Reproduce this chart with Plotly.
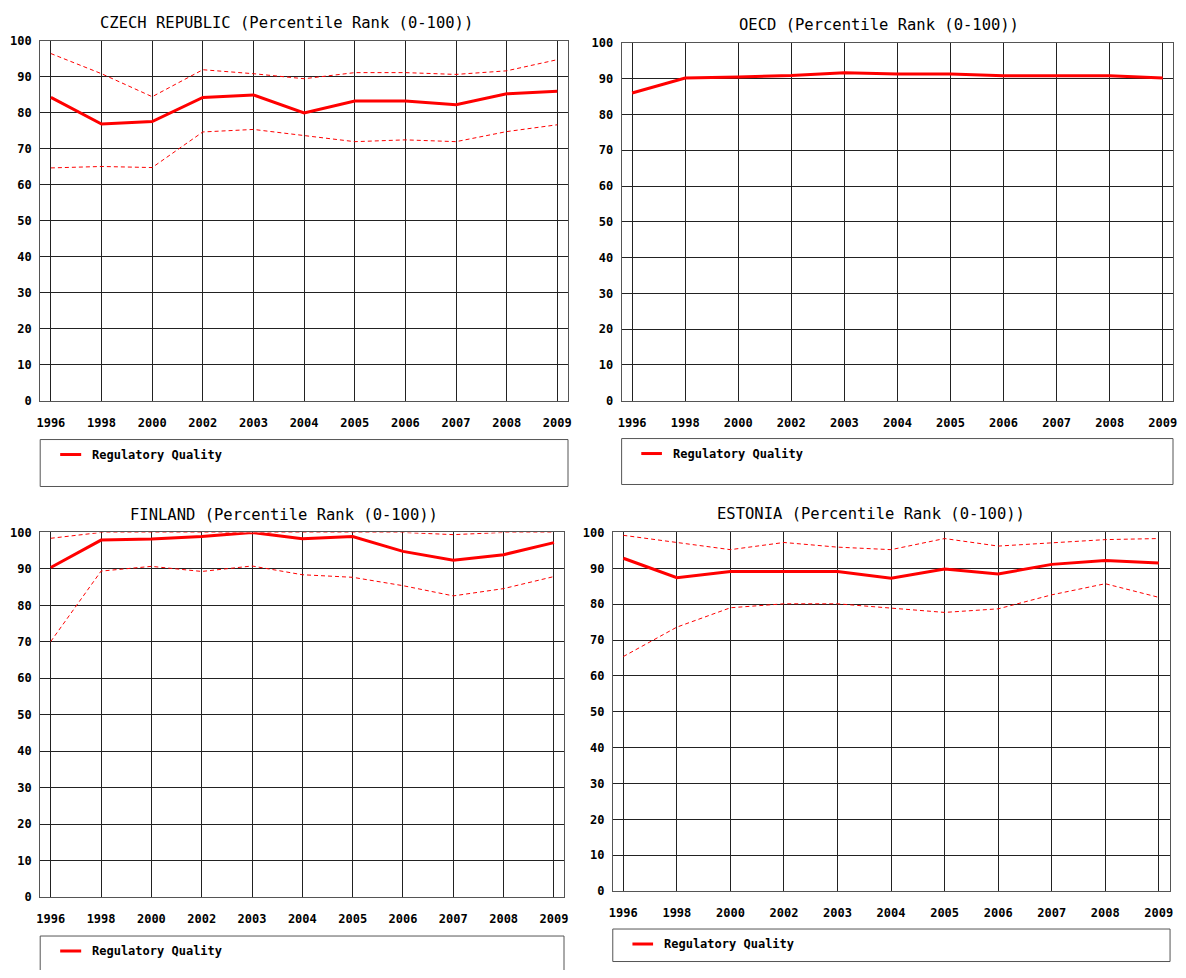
import plotly.graph_objects as go

# Figure is placed inside the page body (8px margin); sized to avoid any page overflow
W, H = 1170, 962

years = ["1996", "1998", "2000", "2002", "2003", "2004", "2005", "2006", "2007", "2008", "2009"]
y_ticks = [0, 10, 20, 30, 40, 50, 60, 70, 80, 90, 100]

czech_rank = [84.3, 76.9, 77.6, 84.3, 85.0, 80.0, 83.3, 83.3, 82.3, 85.3, 86.0]
czech_upper = [96.5, 90.9, 84.5, 92.0, 90.9, 89.5, 91.2, 91.2, 90.7, 91.7, 94.8]
czech_lower = [64.7, 65.1, 64.8, 74.7, 75.4, 73.8, 72.0, 72.5, 72.0, 74.8, 76.7]

oecd_rank = [86.0, 90.2, 90.5, 90.9, 91.7, 91.3, 91.3, 90.8, 90.8, 90.8, 90.2]

finland_rank = [90.4, 97.9, 98.2, 98.9, 100.0, 98.3, 98.9, 94.8, 92.4, 93.9, 97.2]
finland_upper = [98.4, 100.0, 100.0, 100.0, 100.0, 100.0, 100.0, 100.0, 99.4, 100.0, 100.0]
finland_lower = [70.1, 89.4, 90.7, 89.3, 90.8, 88.4, 87.7, 85.4, 82.6, 84.6, 87.9]

estonia_rank = [92.8, 87.4, 89.1, 89.1, 89.1, 87.2, 89.8, 88.4, 91.1, 92.2, 91.5]
estonia_upper = [99.2, 97.2, 95.2, 97.2, 95.9, 95.2, 98.3, 96.2, 97.2, 98.0, 98.3]
estonia_lower = [65.4, 73.6, 79.0, 80.1, 80.1, 79.0, 77.7, 78.7, 82.6, 85.7, 81.9]

titles = [
    "CZECH REPUBLIC (Percentile Rank (0-100))",
    "OECD (Percentile Rank (0-100))",
    "FINLAND (Percentile Rank (0-100))",
    "ESTONIA (Percentile Rank (0-100))",
]
legend_label = "Regulatory Quality"

# mapping from target picture pixels to figure pixels
AX, BX = 11.8, 0.9935
AY, BY = 14.0, 0.9865
SPLIT = (600 - AX) / BX
SQ = (W - 1 - SPLIT) / ((1183 - AX) / BX - SPLIT)


def fx(x):
    f = (x - AX) / BX
    if f > SPLIT:
        f = SPLIT + (f - SPLIT) * SQ
    return f


def px(x):
    return min(1.0, max(0.0, fx(x) / W))


def py(y, clamp=False):
    f = (y - AY) / BY
    if clamp:
        f = min(f, H - 1.5)
    return 1 - f / H


# panel geometry in target picture pixels
panels = [
    dict(l=40, r=568, t=40, b=400, xr=(-0.211, 10.211), tx=286, ty=22,
         lb=(40, 568, 439, 486), series=(czech_rank, czech_upper, czech_lower)),
    dict(l=622, r=1183, t=42, b=400, xr=(-0.198, 10.193), tx=884, ty=24,
         lb=(622, 1183, 438, 484), series=(oecd_rank, None, None)),
    dict(l=40, r=564, t=532, b=897, xr=(-0.21, 10.2), tx=284, ty=515,
         lb=(40, 564, 936, 995), series=(finland_rank, finland_upper, finland_lower)),
    dict(l=613, r=1180, t=532, b=891, xr=(-0.197, 10.21), tx=876, ty=514,
         lb=(613, 1180, 929, 977), series=(estonia_rank, estonia_upper, estonia_lower)),
]

xidx = list(range(len(years)))
RED = "#ff0000"
GRID = "#222222"
BORDER = "#555555"
MONO = "DejaVu Sans Mono"

fig = go.Figure()
shapes = []
annotations = []

for i, p in enumerate(panels):
    n = "" if i == 0 else str(i + 1)
    xa, ya = "x" + n, "y" + n
    rank, up, lo = p["series"]
    if up is not None:
        fig.add_trace(go.Scatter(x=xidx, y=up, xaxis=xa, yaxis=ya, mode="lines",
                                 line=dict(color=RED, width=1, dash="4px,3px"),
                                 showlegend=False, hoverinfo="skip"))
        fig.add_trace(go.Scatter(x=xidx, y=lo, xaxis=xa, yaxis=ya, mode="lines",
                                 line=dict(color=RED, width=1, dash="4px,3px"),
                                 showlegend=False, hoverinfo="skip"))
    fig.add_trace(go.Scatter(x=xidx, y=rank, xaxis=xa, yaxis=ya, mode="lines",
                             line=dict(color=RED, width=3), name=legend_label,
                             showlegend=False))

    axx = dict(domain=[px(p["l"]), px(p["r"])], range=list(p["xr"]), anchor=ya,
               tickvals=xidx, ticktext=["<b>" + y + "</b>" for y in years],
               showgrid=True, gridcolor=GRID, gridwidth=1,
               zeroline=False, showline=True, linecolor=BORDER, linewidth=1, mirror=True,
               ticks="outside", ticklen=11, tickcolor="rgba(0,0,0,0)",
               tickfont=dict(family=MONO, size=12, color="#000000"), fixedrange=True)
    axy = dict(domain=[py(p["b"]), py(p["t"])], range=[0, 100], anchor=xa,
               tickvals=y_ticks, ticktext=["<b>" + str(v) + "</b>" for v in y_ticks],
               showgrid=True, gridcolor=GRID, gridwidth=1,
               zeroline=False, showline=True, linecolor=BORDER, linewidth=1, mirror=True,
               ticks="outside", ticklen=5, tickcolor="rgba(0,0,0,0)",
               tickfont=dict(family=MONO, size=12, color="#000000"), fixedrange=True)
    fig.layout["xaxis" + n] = axx
    fig.layout["yaxis" + n] = axy

    annotations.append(dict(text=titles[i], x=px(p["tx"]), y=py(p["ty"]),
                            xref="paper", yref="paper", xanchor="center", yanchor="middle",
                            showarrow=False, font=dict(family=MONO, size=15.5, color="#000000")))
    bl, br, bt, bb = p["lb"]
    shapes.append(dict(type="rect", xref="paper", yref="paper",
                       x0=px(bl), x1=px(br), y0=py(bb, clamp=(i == 3)), y1=py(bt),
                       line=dict(color=BORDER, width=1), fillcolor="rgba(0,0,0,0)"))
    ly = bt + 15
    shapes.append(dict(type="line", xref="paper", yref="paper",
                       x0=px(bl + 20), x1=px(bl + 41), y0=py(ly), y1=py(ly),
                       line=dict(color=RED, width=3)))
    annotations.append(dict(text="<b>" + legend_label + "</b>", x=px(bl + 50), y=py(ly),
                            xref="paper", yref="paper", xanchor="left", yanchor="middle",
                            showarrow=False, font=dict(family=MONO, size=12, color="#000000")))

fig.update_layout(width=W, height=H, autosize=False,
                  margin=dict(l=0, r=0, t=0, b=0, pad=0),
                  paper_bgcolor="white", plot_bgcolor="white",
                  shapes=shapes, annotations=annotations, showlegend=False,
                  font=dict(family=MONO, size=12, color="#000000"))

fig.write_html("out.html", config={"displayModeBar": False})
